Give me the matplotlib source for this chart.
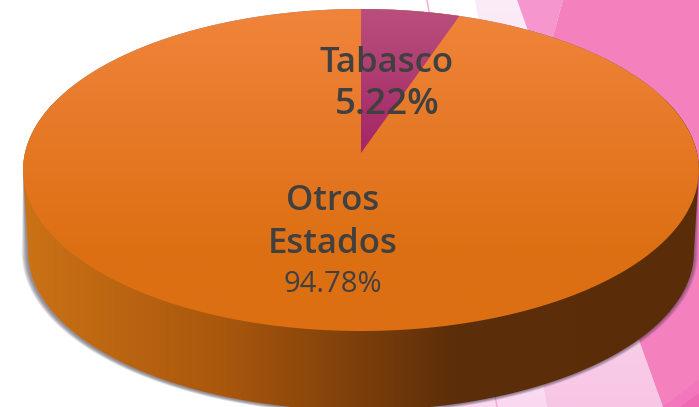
import numpy as np
import matplotlib
matplotlib.use('Agg')
import matplotlib.pyplot as plt
from matplotlib.colors import LinearSegmentedColormap
from matplotlib.patches import Polygon

shares = [5.22, 94.78]
state_names = ['Tabasco', 'Otros\nEstados']
share_labels = ['5.22%', '94.78%']


def project(t, cy=153.0, a=336.0, b=159.2, k=0.1056, cx=361.0):
    # circle seen in perspective, t runs clockwise from the far side
    w = 1 + k * np.cos(t)
    return cx + a * np.sin(t) / w, cy - b * np.cos(t) / w


def gradient(ax, patch, stops, extent, horizontal=False):
    cmap = LinearSegmentedColormap.from_list('g', stops)
    g = np.linspace(0, 1, 256)
    g = g.reshape(1, -1) if horizontal else g.reshape(-1, 1)
    im = ax.imshow(g, cmap=cmap, extent=extent, aspect='auto', zorder=patch.get_zorder())
    patch.set_facecolor('none')
    patch.set_edgecolor('none')
    ax.add_patch(patch)
    im.set_clip_path(patch)


fig = plt.figure(figsize=(6.99, 4.07), dpi=100)
ax = fig.add_axes([0, 0, 1, 1])
ax.set_xlim(0, 699)
ax.set_ylim(407, 0)
ax.axis('off')

# slide background
gradient(ax, Polygon([(350, 0), (475, 0), (547, 407), (443, 407)], zorder=1),
         [(0, '#ffffff'), (0.55, '#ffffff'), (1, '#fad8f0')], (340, 560, 407, 0))
gradient(ax, Polygon([(475, 0), (517, 0), (663, 407), (547, 407)], zorder=1),
         [(0, '#fcecf7'), (1, '#f8c6e5')], (470, 670, 407, 0))
ax.add_patch(Polygon([(517, 0), (563, 0), (543, 73)], fc='#f596ce', ec='none', zorder=2))
ax.add_patch(Polygon([(563, 0), (699, 0), (699, 407), (663, 407), (543, 73)], fc='#f480be', ec='none', zorder=3))
ax.add_patch(Polygon([(662, 407), (699, 380), (699, 407)], fc='#f277bd', ec='none', zorder=4))
ax.add_patch(Polygon([(680, 407), (699, 393), (699, 407)], fc='#ef69b3', ec='none', zorder=4))
ax.plot([427, 497], [0, 407], color='#f4a6d6', lw=1.0, zorder=4)

t = np.linspace(0, 2 * np.pi, 721)
tx, ty = project(t)
bx, by = project(t, cy=235.5, a=331.0, b=156.5)

# outline of the whole disc, top rim plus lower rim
left_b, right_b = np.argmin(bx), np.argmax(bx)
lower = np.arange(right_b, left_b + 1)
left_t, right_t = np.argmin(tx), np.argmax(tx)
upper = np.r_[np.arange(left_t, len(t)), np.arange(0, right_t + 1)]
hull = np.c_[np.r_[tx[upper], bx[lower]], np.r_[ty[upper], by[lower]]]

# soft shadow, fades in towards the lower rim
centre = np.array([361.0, 235.0])
fade = np.clip((hull[:, 1] - 170) / 70, 0, 1)[:, None]
for grow in np.linspace(0.016, 0.002, 7):
    pts = hull + (hull - centre) * grow * fade + [-1, 0.5] * fade
    ax.add_patch(Polygon(pts, fc='#3a3040', ec='none', alpha=0.10, zorder=5))

gradient(ax, Polygon(hull, zorder=6),
         [(0, '#cb7216'), (0.3, '#a9570d'), (0.64, '#5c2e09'), (1, '#5a2d08')],
         (23, 699, 407, 100), horizontal=True)

top = np.c_[tx, ty]
gradient(ax, Polygon(top, zorder=7),
         [(0, '#f0843b'), (0.75, '#dd6f13'), (1, '#dd6f13')], (20, 699, 331, 9))

wedge_t = np.linspace(0, shares[0] / 100 * 2 * np.pi, 40)
wx, wy = project(wedge_t)
wedge = np.c_[np.r_[361.0, wx], np.r_[153.0, wy]]
gradient(ax, Polygon(wedge, zorder=8), [(0, '#b94f7c'), (1, '#a32567')], (361, 460, 153, 9))

font = ['Open Sans', 'DejaVu Sans']
dark = '#404040'
ax.text(387, 72, state_names[0], family=font, weight='semibold', fontsize=25, color=dark,
        ha='center', va='baseline', zorder=10)
ax.text(387, 114, share_labels[0], family=font, weight='semibold', fontsize=26.5, color=dark,
        ha='center', va='baseline', zorder=10)
first, second = state_names[1].split('\n')
ax.text(333, 210, first, family=font, weight='semibold', fontsize=25, color=dark,
        ha='center', va='baseline', zorder=10)
ax.text(333, 253, second, family=font, weight='semibold', fontsize=25, color=dark,
        ha='center', va='baseline', zorder=10)
ax.text(333, 292, share_labels[1], family=font, fontsize=21, color=dark,
        ha='center', va='baseline', zorder=10)

ax.set_xlim(0, 699)
ax.set_ylim(407, 0)
fig.savefig('out.png', dpi=100)
